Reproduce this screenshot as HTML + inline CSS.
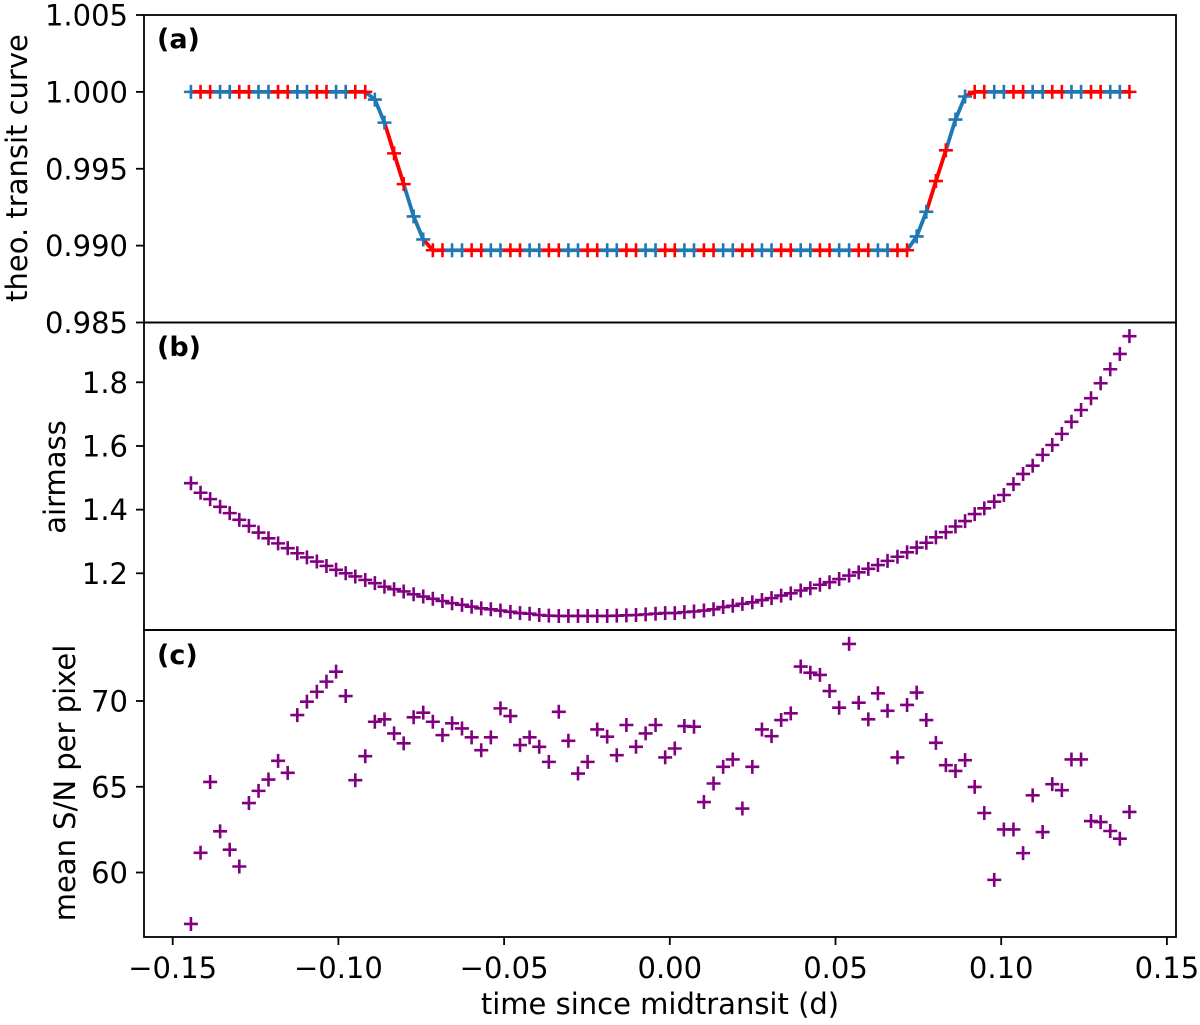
<!DOCTYPE html>
<html><head><meta charset="utf-8"><style>
html,body{margin:0;padding:0;background:#fff;}
svg{display:block;font-family:"DejaVu Sans","Liberation Sans",sans-serif;}
</style></head><body>
<svg id="fig" width="1200" height="1025" viewBox="0 0 1200 1025"></svg>
<script>
const times=[-0.1445,-0.1416,-0.1387,-0.1357,-0.1328,-0.1299,-0.1270,-0.1241,-0.1211,-0.1182,-0.1153,-0.1124,-0.1095,-0.1065,-0.1036,-0.1007,-0.0978,-0.0949,-0.0919,-0.0890,-0.0861,-0.0832,-0.0803,-0.0773,-0.0744,-0.0715,-0.0686,-0.0657,-0.0627,-0.0598,-0.0569,-0.0540,-0.0511,-0.0481,-0.0452,-0.0423,-0.0394,-0.0365,-0.0335,-0.0306,-0.0277,-0.0248,-0.0219,-0.0189,-0.0160,-0.0131,-0.0102,-0.0073,-0.0043,-0.0014,0.0015,0.0044,0.0073,0.0103,0.0132,0.0161,0.0190,0.0219,0.0249,0.0278,0.0307,0.0336,0.0365,0.0395,0.0424,0.0453,0.0482,0.0511,0.0541,0.0570,0.0599,0.0628,0.0657,0.0687,0.0716,0.0745,0.0774,0.0803,0.0833,0.0862,0.0891,0.0920,0.0949,0.0979,0.1008,0.1037,0.1066,0.1095,0.1125,0.1154,0.1183,0.1212,0.1241,0.1271,0.1300,0.1329,0.1358,0.1387];
const transit=[1,1,1,1,1,1,1,1,1,1,1,1,1,1,1,1,1,1,1,
0.9995,0.9980,0.9960,0.9940,0.9919,0.9904,
0.9897,0.9897,0.9897,0.9897,0.9897,0.9897,0.9897,0.9897,0.9897,0.9897,0.9897,0.9897,0.9897,0.9897,0.9897,0.9897,0.9897,0.9897,0.9897,0.9897,0.9897,0.9897,0.9897,0.9897,0.9897,0.9897,0.9897,0.9897,0.9897,0.9897,0.9897,0.9897,0.9897,0.9897,0.9897,0.9897,0.9897,0.9897,0.9897,0.9897,0.9897,0.9897,0.9897,0.9897,0.9897,0.9897,0.9897,0.9897,0.9897,0.9897,
0.9906,0.9922,0.9942,0.9962,0.9982,0.9997,
1,1,1,1,1,1,1,1,1,1,1,1,1,1,1,1,1];
const airmass=[1.483,1.453,1.433,1.409,1.389,1.368,1.349,1.328,1.310,1.294,1.279,1.263,1.250,1.237,1.223,1.211,1.200,1.190,1.179,1.169,1.158,1.150,1.143,1.134,1.127,1.120,1.113,1.106,1.101,1.095,1.090,1.087,1.083,1.079,1.075,1.073,1.069,1.067,1.066,
1.066,1.066,1.066,1.066,1.066,1.067,1.068,1.069,1.071,1.073,
1.075,1.075,1.078,1.080,1.083,1.087,1.094,1.098,1.104,1.109,1.116,1.122,1.130,1.137,1.146,1.153,1.164,1.172,1.182,1.193,1.203,1.214,1.226,1.239,1.252,1.266,1.281,1.296,1.313,1.329,1.347,1.364,1.386,1.404,1.425,1.446,1.480,1.512,1.538,1.572,1.603,1.638,1.676,1.713,1.750,1.797,1.841,1.889,1.945];
const snr=[57.0,61.15,65.28,62.40,61.33,60.35,64.05,64.76,65.42,66.51,65.81,69.18,69.96,70.54,71.13,71.71,70.29,65.38,66.78,68.79,68.93,68.11,67.53,69.05,69.32,68.79,68.01,68.70,68.40,67.88,67.13,67.88,69.57,69.12,67.43,67.88,67.33,66.45,69.37,67.68,65.77,66.45,68.34,67.92,66.84,68.60,67.33,68.11,68.60,66.71,67.23,68.54,68.50,64.11,65.19,66.16,66.59,63.73,66.16,68.34,67.95,68.89,69.28,72.01,71.65,71.52,70.58,69.61,73.33,69.90,68.93,70.45,69.43,66.71,69.77,70.49,68.89,67.56,66.26,65.92,66.55,64.99,63.47,59.57,62.51,62.51,61.13,64.50,62.36,65.15,64.80,66.59,66.59,63.00,62.94,62.42,61.97,63.53];
const xTicks=[-0.15,-0.10,-0.05,0.00,0.05,0.10,0.15];
const xTickLabels=["\u22120.15","\u22120.10","\u22120.05","0.00","0.05","0.10","0.15"];
const aTicks=[1.005,1.000,0.995,0.990,0.985];
const aTickLabels=["1.005","1.000","0.995","0.990","0.985"];
const bTicks=[1.2,1.4,1.6,1.8];
const bTickLabels=["1.2","1.4","1.6","1.8"];
const cTicks=[60,65,70];
const cTickLabels=["60","65","70"];

const NS="http://www.w3.org/2000/svg";
const svg=document.getElementById('fig');
const L=144,R=1176;
function X(t){return 172.7+(t+0.15)*3314;}
function lin(v0,p0,v1,p1){return v=>p0+(v-v0)*(p1-p0)/(v1-v0);}
const Ya=lin(1.005,15,0.985,322.5);
const Yb=lin(1.8,382.3,1.2,573.3);
const Yc=lin(70,701,60,872.5);
function el(tag,attrs,parent){const e=document.createElementNS(NS,tag);for(const k in attrs)e.setAttribute(k,attrs[k]);(parent||svg).appendChild(e);return e;}
function plus(g,x,y,s,c,w){el('path',{d:`M${x-s} ${y}H${x+s}M${x} ${y-s}V${y+s}`,stroke:c,'stroke-width':w,fill:'none'},g);}
function colorOf(i){return Math.floor((i+1)/2)%2===1?'#ff0000':'#1f77b4';}

const ga=el('g',{});


for(let i=0;i<times.length-1;i++){
  const seg=el('line',{x1:X(times[i]),y1:Ya(transit[i]),x2:X(times[i+1]),y2:Ya(transit[i+1]),stroke:colorOf(i+1),'stroke-width':3.8,'stroke-linecap':'round'},ga);
  
  
}
for(let i=0;i<times.length;i++){
  const g=el('g',{},ga);
  
  
  plus(g,X(times[i]),Ya(transit[i]),7,colorOf(i),2.6);
}
const gb=el('g',{});


for(let i=0;i<times.length;i++){
  const g=el('g',{},gb);
  
  
  plus(g,X(times[i]),Yb(airmass[i]),7,'#800080',2.6);
}
const gc=el('g',{});


for(let i=0;i<times.length;i++){
  const g=el('g',{},gc);
  
  
  plus(g,X(times[i]),Yc(snr[i]),7,'#800080',2.6);
}
const frames=[[15,322.5,'panel-a-frame'],[322.5,630,'panel-b-frame'],[630,937,'panel-c-frame']];
frames.forEach(f=>{
  const r=el('rect',{x:L,y:f[0],width:R-L,height:f[1]-f[0],fill:'none',stroke:'#000','stroke-width':1.8});
  
  
});
function yAxis(ticks,labels,fn,name){
  const g=el('g',{});
  
  
  ticks.forEach((v,i)=>{
    const y=fn(v);
    el('line',{x1:L-8,y1:y,x2:L,y2:y,stroke:'#000','stroke-width':1.8},g);
    const t=el('text',{x:128,y:y+10.5,'text-anchor':'end','font-size':29,fill:'#000'},g);
    t.textContent=labels[i];
  });
}
yAxis(aTicks,aTickLabels,Ya,'y-axis-a');
yAxis(bTicks,bTickLabels,Yb,'y-axis-b');
yAxis(cTicks,cTickLabels,Yc,'y-axis-c');
const gx=el('g',{});


xTicks.forEach((v,i)=>{
  const x=X(v);
  el('line',{x1:x,y1:937,x2:x,y2:945,stroke:'#000','stroke-width':1.8},gx);
  const t=el('text',{x:x,y:978,'text-anchor':'middle','font-size':29,fill:'#000'},gx);
  t.textContent=xTickLabels[i];
});
</script>
<script>
(function(){
const NS="http://www.w3.org/2000/svg";
const svg=document.getElementById('fig');
function txt(x,y,s,size,weight,name,rot){
  const t=document.createElementNS(NS,'text');
  t.setAttribute('x',x);t.setAttribute('y',y);
  t.setAttribute('font-size',size);t.setAttribute('font-weight',weight);
  t.setAttribute('text-anchor',rot?'middle':'start');
  if(rot)t.setAttribute('transform',`rotate(-90 ${x} ${y})`);
  
  
  t.textContent=s;svg.appendChild(t);
}
txt(157,48,'(a)',27,'bold','panel-a-label');
txt(157,356,'(b)',27,'bold','panel-b-label');
txt(157,664,'(c)',27,'bold','panel-c-label');
txt(27,168,'theo. transit curve',29,'normal','y-axis-title-a',true);
txt(65,477,'airmass',29,'normal','y-axis-title-b',true);
txt(75,783,'mean S/N per pixel',29,'normal','y-axis-title-c',true);
const t=document.createElementNS(NS,'text');
t.setAttribute('x',660);t.setAttribute('y',1014);t.setAttribute('font-size',29);t.setAttribute('text-anchor','middle');


t.textContent='time since midtransit (d)';svg.appendChild(t);
})();
</script>
</body></html>
